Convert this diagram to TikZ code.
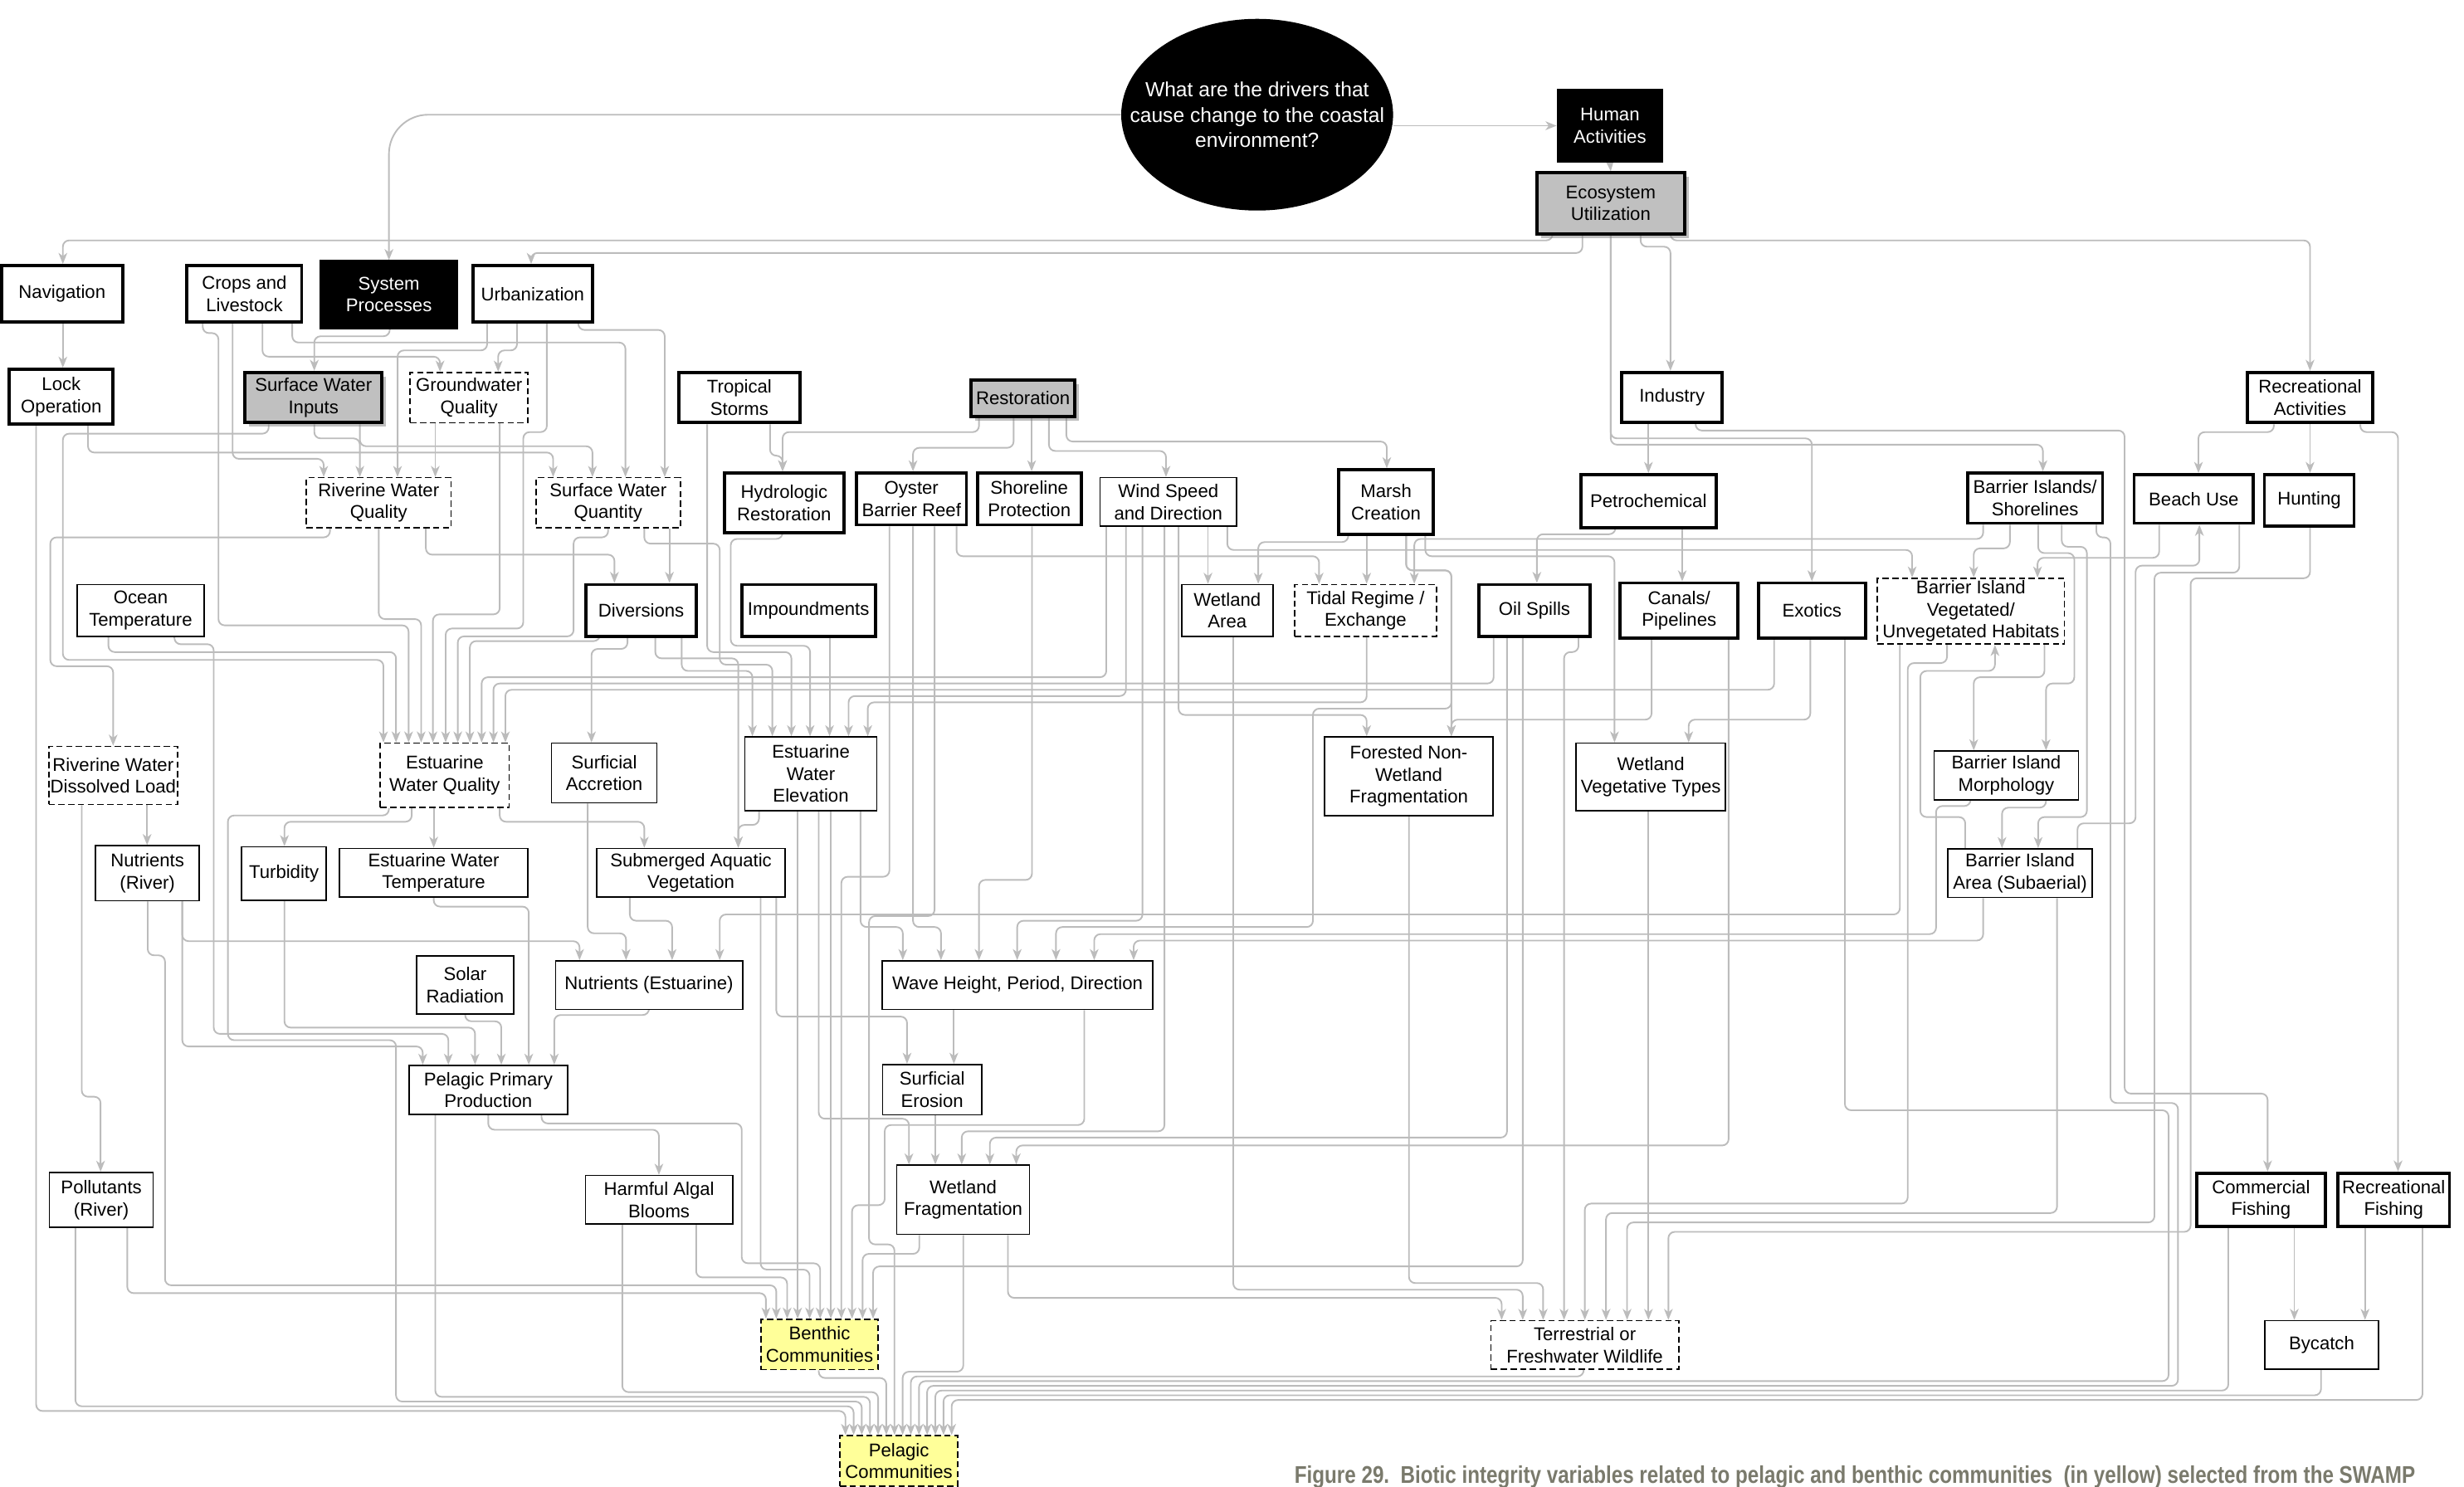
\documentclass[tikz,border=0pt]{standalone}
\usepackage{fontspec}
\setmainfont{Liberation Sans}
\usepackage{graphicx}
\usetikzlibrary{arrows.meta,shadows,shapes.geometric,backgrounds}
\definecolor{lg}{RGB}{188,188,188}
\definecolor{boxgray}{RGB}{192,192,192}
\definecolor{yel}{RGB}{255,255,153}
\definecolor{capc}{RGB}{122,122,108}
\newcommand\cnE[5]{\draw[cn] (#2,0 |- #1.south) -- (#2,#3) -- (#5,#3) -- (#5,0 |- #4.north);}
\newcommand\cnV[3]{\draw[cn] (#2,0 |- #1.south) -- (#2,0 |- #3.north);}
\newcommand\cnEE[7]{\draw[cn] (#2,0 |- #1.south) -- (#2,#3) -- (#4,#3) -- (#4,#5) -- (#7,#5) -- (#7,0 |- #6.north);}
\begin{document}
\begin{tikzpicture}[x=1pt,y=-1pt,
 cn/.style={draw=lg,line width=1pt,rounded corners=4pt,-{Stealth[length=7pt,width=5.5pt,inset=2pt]}},
 bx/.style={draw=black,line width=0.9pt,fill=white,inner xsep=0.5pt,inner ysep=0pt,align=center,font=\fontsize{11.7}{14}\selectfont},
 tk/.style={bx,line width=2pt},
 ds/.style={bx,dash pattern=on 4pt off 2.2pt},
 gr/.style={tk,fill=boxgray,drop shadow={shadow xshift=2.5pt,shadow yshift=-2.5pt}},
 bk/.style={bx,fill=black,text=white},
 ye/.style={ds,fill=yel}]
\useasboundingbox (0,0) rectangle (1568,946);
% nodes
\node[ellipse,fill=black,minimum width=173pt,minimum height=122pt,inner sep=0pt] (ell) at (800,73) {};
\node[text=white,align=center,inner sep=0pt,font=\fontsize{13}{16}\selectfont] (elltext) at (ell.center) {What are the drivers that\\cause change to the coastal\\environment?};
\node[bk,minimum width=67pt,minimum height=46pt] (hum) at (1024.5,80) {Human\\Activities};
\node[gr,minimum width=94pt,minimum height=39pt] (eco) at (1025,129.5) {Ecosystem\\Utilization};
\node[tk,minimum width=77pt,minimum height=36pt] (nav) at (39.5,187) {Navigation};
\node[tk,minimum width=73pt,minimum height=36pt] (crops) at (155.5,187) {Crops and\\Livestock};
\node[bk,minimum width=87pt,minimum height=43pt] (sys) at (247.5,187.5) {System\\Processes};
\node[tk,minimum width=76pt,minimum height=36pt] (urb) at (339,187) {Urbanization};
\node[tk,minimum width=66pt,minimum height=35pt] (lock) at (39,252.5) {Lock\\Operation};
\node[gr,minimum width=87pt,minimum height=32pt] (swi) at (199.5,253) {Surface Water\\Inputs};
\node[ds,minimum width=75pt,minimum height=32pt] (gwq) at (298.5,253) {Groundwater\\Quality};
\node[tk,minimum width=77pt,minimum height=32pt] (trop) at (470.5,253) {Tropical\\Storms};
\node[gr,minimum width=66pt,minimum height=23pt] (rest) at (651,253.5) {Restoration};
\node[tk,minimum width=64pt,minimum height=32pt] (ind) at (1064,253) {Industry};
\node[tk,minimum width=80pt,minimum height=32pt] (recact) at (1470,253) {Recreational\\Activities};
\node[ds,minimum width=92pt,minimum height=32pt] (rwq) at (241,320) {Riverine Water\\Quality};
\node[ds,minimum width=92pt,minimum height=32pt] (swq) at (387,320) {Surface Water\\Quantity};
\node[tk,minimum width=76pt,minimum height=38pt] (hydro) at (499,320) {Hydrologic\\Restoration};
\node[tk,minimum width=70pt,minimum height=33pt] (oyster) at (580,317.5) {Oyster\\Barrier Reef};
\node[tk,minimum width=66pt,minimum height=33pt] (shore) at (655,317.5) {Shoreline\\Protection};
\node[bx,minimum width=87pt,minimum height=31pt] (wind) at (743.5,319.5) {Wind Speed\\and Direction};
\node[tk,minimum width=60pt,minimum height=41pt] (marsh) at (882,319.5) {Marsh\\Creation};
\node[tk,minimum width=86pt,minimum height=34pt] (petro) at (1049,319) {Petrochemical};
\node[tk,minimum width=86pt,minimum height=32pt] (bis) at (1295,317) {Barrier Islands/\\Shorelines};
\node[tk,minimum width=76pt,minimum height=31pt] (beach) at (1396,317.5) {Beach Use};
\node[tk,minimum width=57pt,minimum height=33pt] (hunt) at (1469.5,318.5) {Hunting};
\node[bx,minimum width=81pt,minimum height=33pt] (ocean) at (89.5,388.5) {Ocean\\Temperature};
\node[tk,minimum width=70pt,minimum height=33pt] (div) at (408,388.5) {Diversions};
\node[tk,minimum width=85pt,minimum height=33pt] (imp) at (514.5,388.5) {Impoundments};
\node[bx,minimum width=58pt,minimum height=33pt] (wa) at (781,388.5) {Wetland\\Area};
\node[ds,minimum width=90pt,minimum height=33pt] (tidal) at (869,388.5) {Tidal Regime /\\Exchange};
\node[tk,minimum width=71pt,minimum height=33pt] (oil) at (976.5,388.5) {Oil Spills};
\node[tk,minimum width=75pt,minimum height=35pt] (canal) at (1068.5,388.5) {Canals/\\Pipelines};
\node[tk,minimum width=68pt,minimum height=35pt] (exo) at (1153,388.5) {Exotics};
\node[ds,minimum width=119pt,minimum height=42pt] (biv) at (1254.2,389) {Barrier Island\\Vegetated/\\Unvegetated Habitats};
\node[ds,minimum width=82pt,minimum height=37pt] (rwdl) at (72,493.5) {Riverine Water\\Dissolved Load};
\node[ds,minimum width=82pt,minimum height=41pt] (ewq) at (283,493.5) {Estuarine\\Water Quality};
\node[bx,minimum width=67pt,minimum height=38pt] (sa) at (384.5,492) {Surficial\\Accretion};
\node[bx,minimum width=84pt,minimum height=47pt] (ewe) at (516,492.5) {Estuarine\\Water\\Elevation};
\node[bx,minimum width=107pt,minimum height=50pt] (fnwf) at (896.5,494) {Forested Non-\\Wetland\\Fragmentation};
\node[bx,minimum width=95pt,minimum height=43pt] (wvt) at (1050.5,494.5) {Wetland\\Vegetative Types};
\node[bx,minimum width=92pt,minimum height=31pt] (bim) at (1276.7,493.5) {Barrier Island\\Morphology};
\node[bx,minimum width=92pt,minimum height=31pt] (bia) at (1285.5,555.7) {Barrier Island\\Area (Subaerial)};
\node[bx,minimum width=66pt,minimum height=35pt] (nriv) at (93.8,555.8) {Nutrients\\(River)};
\node[bx,minimum width=54pt,minimum height=34pt] (turb) at (180.7,556) {Turbidity};
\node[bx,minimum width=120pt,minimum height=31pt] (ewt) at (276,555.5) {Estuarine Water\\Temperature};
\node[bx,minimum width=120pt,minimum height=31pt] (sav) at (439.7,555.5) {Submerged Aquatic\\Vegetation};
\node[bx,minimum width=62pt,minimum height=37pt] (solar) at (296,627) {Solar\\Radiation};
\node[bx,minimum width=119pt,minimum height=31pt] (ne) at (413,627) {Nutrients (Estuarine)};
\node[bx,minimum width=172pt,minimum height=31pt] (whpd) at (647.5,627) {Wave Height, Period, Direction};
\node[bx,minimum width=101pt,minimum height=31pt] (ppp) at (310.7,693.6) {Pelagic Primary\\Production};
\node[bx,minimum width=63pt,minimum height=32pt] (se) at (593.2,693.5) {Surficial\\Erosion};
\node[bx,minimum width=66pt,minimum height=35pt] (poll) at (64.5,763.7) {Pollutants\\(River)};
\node[bx,minimum width=93.5pt,minimum height=31pt] (hab) at (419.4,763.6) {Harmful Algal\\Blooms};
\node[bx,minimum width=84.6pt,minimum height=44pt] (wf) at (612.9,763.6) {Wetland\\Fragmentation};
\node[tk,minimum width=82pt,minimum height=34pt] (cf) at (1438.8,763.6) {Commercial\\Fishing};
\node[tk,minimum width=71pt,minimum height=34pt] (rf) at (1523.2,763.6) {Recreational\\Fishing};
\node[ye,minimum width=74.7pt,minimum height=32pt] (benthic) at (521.5,855.7) {Benthic\\Communities};
\node[ds,minimum width=119.5pt,minimum height=31pt] (terr) at (1008.5,856) {Terrestrial or\\Freshwater Wildlife};
\node[bx,minimum width=72.6pt,minimum height=31pt] (bycatch) at (1477.4,856) {Bycatch};
\node[ye,minimum width=75pt,minimum height=32pt] (pelagic) at (572,929.7) {Pelagic\\Communities};
\node[anchor=base west,text=capc,inner sep=0pt,font=\fontsize{15.4}{16}\selectfont\bfseries] (cap) at (823.6,944) {\scalebox{0.83}[1]{Figure 29.\ \ Biotic integrity variables related to pelagic and benthic communities\ \ (in yellow) selected from the SWAMP}};
\begin{scope}[on background layer]
\fill[white] (0,0) rectangle (1568,946);
% top
\draw[cn,rounded corners=25pt] (ell.west) -| (sys.north);
\draw[cn] (hum.west -| ell.east) -- (hum.west);
\draw[cn] (hum.south) -- (eco.north);
\cnE{eco}{988}{153}{nav}{40}
\cnE{eco}{1007}{161}{urb}{338}
\cnE{eco}{1044}{157}{ind}{1063}
\cnE{eco}{1063}{153}{recact}{1470}
\cnE{eco}{1025}{279}{exo}{1153}
\cnE{eco}{1025}{283}{bis}{1300}
\cnV{ind}{1049}{petro}
\cnEE{ind}{1079}{274}{1352}{696}{cf}{1443}
\cnE{recact}{1447}{275}{beach}{1399}
\cnV{recact}{1470}{hunt}
\cnE{recact}{1502}{275}{rf}{1526}
\cnV{nav}{40}{lock}
\cnE{lock}{23}{898}{pelagic}{538}
\cnE{lock}{56}{288}{swq}{352}
\cnEE{crops}{129}{212}{139}{398}{ewq}{260}
\cnE{crops}{148}{292}{rwq}{206}
\cnE{crops}{167}{227}{gwq}{280}
\cnE{crops}{186}{218}{swq}{398}
\cnE{sys}{248}{214}{swi}{200}
\cnE{urb}{310}{223}{rwq}{253}
\cnE{urb}{329}{223}{gwq}{317}
\cnEE{urb}{348}{275}{333}{400}{ewq}{283.6}
\cnE{urb}{368}{210}{swq}{423}
\cnEE{swi}{171}{276}{40}{420}{ewq}{244}
\cnE{swi}{200}{279}{rwq}{229}
\cnE{swi}{229}{284}{swq}{377}
\cnV{gwq}{277}{rwq}
\cnE{gwq}{318}{391}{ewq}{275.5}
\cnEE{rwq}{210}{342}{32}{424}{rwdl}{72}
\cnE{rwq}{241}{394}{ewq}{268}
\cnE{rwq}{271}{353}{div}{391}
\cnEE{swq}{387}{342}{365}{405}{ewq}{291.3}
\cnV{swq}{426}{div}
\cnEE{swq}{410}{346}{458}{423}{ewe}{491.5}
\cnE{trop}{450}{415}{ewe}{503.6}
\cnE{trop}{490}{290}{hydro}{498}
\cnE{rest}{623}{275}{hydro}{498}
\cnE{rest}{645}{285}{oyster}{581}
\cnV{rest}{656.5}{shore}
\cnE{rest}{667.5}{287}{wind}{742}
\cnE{rest}{678.6}{281}{marsh}{882.5}
\cnEE{hydro}{498}{343}{465}{411}{ewe}{515.5}
\cnV{imp}{527.9}{ewe}
\cnE{oyster}{608.7}{354}{tidal}{839.4}
\cnE{oyster}{581}{590}{whpd}{598.8}
\cnE{oyster}{566}{558}{benthic}{535.4}
\cnEE{oyster}{594.7}{583}{553}{792}{pelagic}{569.2}
\cnE{shore}{656.7}{560}{whpd}{623}
\cnV{wind}{768.7}{wa}
\cnE{wind}{750}{455}{fnwf}{869.7}
\cnE{wind}{704}{431}{ewq}{306.5}
\cnE{wind}{716.5}{443}{ewe}{540}
\cnE{wind}{727}{586}{whpd}{647.3}
\cnE{wind}{741}{720}{wf}{612}
\cnE{wind}{781}{350}{biv}{1216.8}
\cnE{marsh}{858}{345}{wa}{800.7}
\cnV{marsh}{869.7}{tidal}
\cnE{marsh}{907}{354}{wvt}{1027.4}
\cnE{marsh}{894.8}{363}{fnwf}{923.6}
\draw[cn] (894.8,0 |- marsh.south) -- (894.8,363) -- (923.6,363) -- (923.6,451) -- (835.5,451) -- (835.5,590) -- (672,590) -- (672,0 |- whpd.north);
\cnE{petro}{1028}{340}{oil}{978}
\cnV{petro}{1070.5}{canal}
\cnE{bis}{1262}{343}{tidal}{900}
\cnE{bis}{1279}{349}{biv}{1256}
\cnEE{bis}{1297}{352}{1320}{435}{bim}{1302}
\cnEE{bis}{1312}{348}{1328}{520}{bia}{1297}
\draw[cn] (1334,0 |- bis.south) -- (1334,342) -- (1343,342) -- (1343,702) -- (1386,702) -- (1386,882) -- (590,882) -- (590,0 |- pelagic.north);
\cnE{beach}{1374}{355}{biv}{1296.6}
\cnEE{beach}{1425}{364.5}{1371}{778}{terr}{1035.4}
\cnEE{hunt}{1470}{368}{1394}{784}{terr}{1061.7}
\draw[cn] (1322,0 |- bia.north) -- (1322,524) -- (1359,524) -- (1359,360) -- (1399.6,360) -- (1399.6,0 |- beach.south);
\draw[cn] (1250.6,0 |- bia.north) -- (1250.6,520) -- (1222,520) -- (1222,427) -- (1269.5,427) -- (1269.5,0 |- biv.south);
\cnE{biv}{1301}{431}{bim}{1256}
\cnE{bim}{1302}{514}{bia}{1274}
\cnEE{bim}{1254}{513}{1232}{594.5}{whpd}{696.3}
\cnE{bia}{1262}{598.6}{whpd}{721.4}
\cnE{bia}{1309}{772}{terr}{1022}
\cnEE{biv}{1239}{422}{1214}{766}{terr}{1008.5}
\cnE{biv}{1209}{582}{ne}{458}
\cnE{canal}{1051}{458}{fnwf}{923.6}
\cnE{canal}{1100}{729}{wf}{646.7}
\cnE{exo}{1152}{458}{wvt}{1074.6}
\cnE{exo}{1129}{439}{ewq}{321.6}
\cnEE{exo}{1174}{706.6}{1380}{879}{pelagic}{584.8}
\cnE{oil}{950.5}{435}{ewq}{314}
\cnE{oil}{959}{724}{wf}{629.9}
\cnE{oil}{969}{806}{benthic}{555.6}
\cnE{oil}{1004.5}{415}{terr}{995.3}
\cnE{tidal}{869.7}{447}{ewe}{552.2}
\cnE{wa}{784.8}{820.8}{terr}{969}
\cnE{fnwf}{896.6}{816.6}{terr}{982}
\cnV{wvt}{1049}{terr}
\cnE{wf}{641.4}{826}{terr}{955.6}
\cnE{terr}{1007.8}{876}{pelagic}{579.6}
\cnV{cf}{1460}{bycatch}
\cnV{rf}{1505}{bycatch}
\cnE{cf}{1418}{885}{pelagic}{595.2}
\cnE{bycatch}{1477}{888}{pelagic}{600.4}
\cnE{rf}{1541.6}{891}{pelagic}{605.6}
% lower left
\cnE{div}{399.3}{413}{sa}{376.4}
\cnE{div}{381.8}{408}{ewq}{299}
\cnE{div}{417}{419}{sav}{469.8}
\cnE{div}{433.8}{427}{ewe}{478.8}
\cnE{ewe}{483}{525}{sav}{469.8}
\cnE{ewe}{547.6}{590}{whpd}{574.5}
\cnV{ewe}{507.6}{benthic}
\cnV{ewe}{528.7}{benthic}
\cnE{ewe}{521}{712}{wf}{578.4}
\cnE{sa}{374}{594}{ne}{398.4}
\cnE{nriv}{116}{599}{ne}{368.8}
\cnE{nriv}{116}{666}{ppp}{269}
\cnEE{nriv}{94}{608}{105}{818}{benthic}{494}
\cnV{rwdl}{93.6}{nriv}
\cnE{rwdl}{52}{698}{poll}{64}
\cnE{poll}{81}{823}{benthic}{487.4}
\cnE{poll}{48}{895}{pelagic}{543.2}
\cnE{ewq}{262}{523}{turb}{181}
\cnV{ewq}{276}{ewt}
\cnE{ewq}{318}{523}{sav}{410}
\draw[cn] (247.5,0 |- ewq.south) -- (247.5,519) -- (145,519) -- (145,662) -- (252,662) -- (252,892) -- (548.4,892) -- (548.4,0 |- pelagic.north);
\cnE{turb}{181}{654}{ppp}{302.3}
\cnE{ewt}{276}{577}{ppp}{336.5}
\cnE{solar}{296}{650}{ppp}{319}
\cnE{ne}{413}{646}{ppp}{352.7}
\cnEE{ocean}{111}{410}{136}{658}{ppp}{285.3}
\cnE{ocean}{69}{415}{ewq}{252}
\cnE{sav}{400.8}{586}{ne}{427.7}
\cnE{sav}{494}{647}{se}{577.2}
\cnE{sav}{484}{808}{benthic}{515.2}
\cnE{ppp}{310.7}{719}{hab}{419.3}
\cnEE{ppp}{344.6}{715}{472}{804}{benthic}{521.9}
\cnE{ppp}{277}{889}{pelagic}{553.6}
\cnE{hab}{443}{813}{benthic}{500.9}
\cnE{hab}{396}{886}{pelagic}{558.8}
\cnV{whpd}{607}{se}
\cnEE{whpd}{690}{716}{563}{767}{benthic}{542.2}
\cnV{se}{595.2}{wf}
\cnE{wf}{585}{798}{benthic}{548.9}
\cnE{wf}{613}{873}{pelagic}{574.4}
\cnE{benthic}{521}{877}{pelagic}{564}
\end{scope}
\end{tikzpicture}
\end{document}
